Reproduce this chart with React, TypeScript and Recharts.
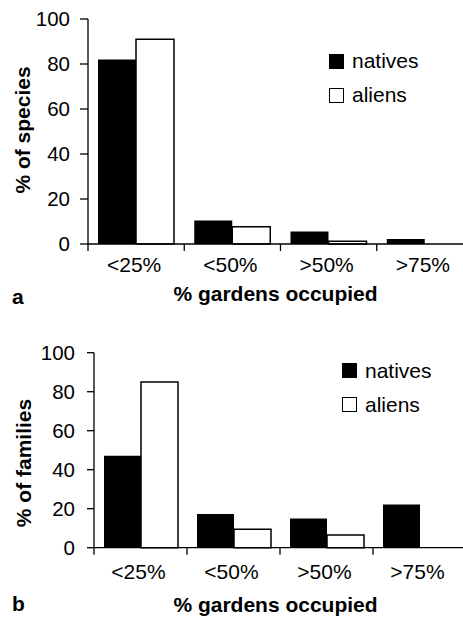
import { Bar, BarChart, Legend, XAxis, YAxis } from 'recharts';

const categories = ['<25%', '<50%', '>50%', '>75%'];
const speciesNatives = [82, 10.4, 5.6, 2.2];
const speciesAliens = [91, 7.7, 1.2, 0];
const familiesNatives = [47.2, 17.3, 15, 22.2];
const familiesAliens = [85, 9.4, 6.5, 0];
const yTicks = [0, 20, 40, 60, 80, 100];
const seriesNames = ['natives', 'aliens'];

const FONT = '"Liberation Sans", Arial, Helvetica, sans-serif';

const makeRows = (natives: number[], aliens: number[]) =>
    categories.map((name, i) => ({ name, natives: natives[i], aliens: aliens[i] }));

const CategoryTick = ({ x, y, payload, halfBand, labelDy }: any) => (
    <g>
        <line x1={x - halfBand} x2={x - halfBand} y1={y} y2={y + 7} stroke='#000' strokeWidth={1.3} />
        <text x={x - 2} y={y + labelDy} textAnchor='middle' fontSize={21} fill='#000' fontFamily={FONT}>
            {payload.value}
        </text>
    </g>
);

const LegendBox = () => (
    <div style={{ fontFamily: FONT, fontSize: 21, color: '#000' }}>
        {seriesNames.map((n, i) => (
            <div key={n} style={{ display: 'flex', alignItems: 'center', height: 34 }}>
                <span
                    style={{
                        display: 'inline-block',
                        width: 15,
                        height: 15,
                        boxSizing: 'border-box',
                        background: i === 0 ? '#000' : '#fff',
                        border: '1.5px solid #000',
                        marginRight: 8,
                    }}
                />
                <span>{n}</span>
            </div>
        ))}
    </div>
);

const Panel = ({ rows, width, height, top, yWidth, tickSize, tickMargin, labelDy, legendTop, legendLeft,
    yLabel, yLabelX, yLabelY, titleY, letter, letterY }: any) => {
    const xHeight = height - top - (height === 310 ? 225 : 195);
    const halfBand = (width - yWidth) / categories.length / 2;
    return (
        <div style={{ position: 'relative', width: 463, height, overflow: 'hidden' }}>
            <BarChart width={width} height={height} data={rows}
                margin={{ top, right: 0, bottom: 0, left: 0 }} barCategoryGap={10} barGap={0}>
                <XAxis dataKey='name' height={xHeight} interval={0} tickSize={0} tickMargin={0} tickLine={false}
                    axisLine={{ stroke: '#000', strokeWidth: 1.3 }}
                    tick={(p: any) => <CategoryTick {...p} halfBand={halfBand} labelDy={labelDy} />} />
                <YAxis domain={[0, 100]} ticks={yTicks} interval={0} width={yWidth} tickSize={tickSize} tickMargin={tickMargin}
                    axisLine={{ stroke: '#000', strokeWidth: 1.3 }} tickLine={{ stroke: '#000', strokeWidth: 1.3 }}
                    tick={{ fill: '#000', fontSize: 20.5, fontFamily: FONT }} />
                <Legend layout='vertical' align='center' verticalAlign='middle' content={LegendBox}
                    wrapperStyle={{ position: 'absolute', top: legendTop, left: legendLeft, width: 'auto', height: 'auto' }} />
                <Bar dataKey='natives' fill='#000' isAnimationActive={false} />
                <Bar dataKey='aliens' fill='#fff' stroke='#000' strokeWidth={1.5} isAnimationActive={false} />
            </BarChart>
            <svg width={463} height={height} style={{ position: 'absolute', left: 0, top: 0, pointerEvents: 'none' }}>
                <text x={275.5} y={titleY} textAnchor='middle' fontSize={21} fontWeight='bold' fontFamily={FONT}>
                    % gardens occupied
                </text>
                <text x={12} y={letterY} fontSize={21} fontWeight='bold' fontFamily={FONT}>{letter}</text>
                <text x={yLabelX} y={yLabelY} textAnchor='middle' fontSize={21} fontWeight='bold' fontFamily={FONT}
                    transform={`rotate(-90 ${yLabelX} ${yLabelY})`}>
                    {yLabel}
                </text>
            </svg>
        </div>
    );
};

export default function App() {
    return (
        <div style={{ position: 'absolute', left: 0, top: 0, width: 463, height: 617, background: '#fff' }}>
            <Panel rows={makeRows(speciesNatives, speciesAliens)} width={473} height={310} top={19} yWidth={88}
                tickSize={8} tickMargin={10} labelDy={28} legendTop={44} legendLeft={329}
                yLabel='% of species' yLabelX={29.5} yLabelY={130} titleY={301} letter='a' letterY={304} />
            <Panel rows={makeRows(familiesNatives, familiesAliens)} width={466} height={307} top={42.7} yWidth={94}
                tickSize={7} tickMargin={12} labelDy={31} legendTop={43.5} legendLeft={342}
                yLabel='% of families' yLabelX={31} yLabelY={153} titleY={302} letter='b' letterY={301} />
        </div>
    );
}
